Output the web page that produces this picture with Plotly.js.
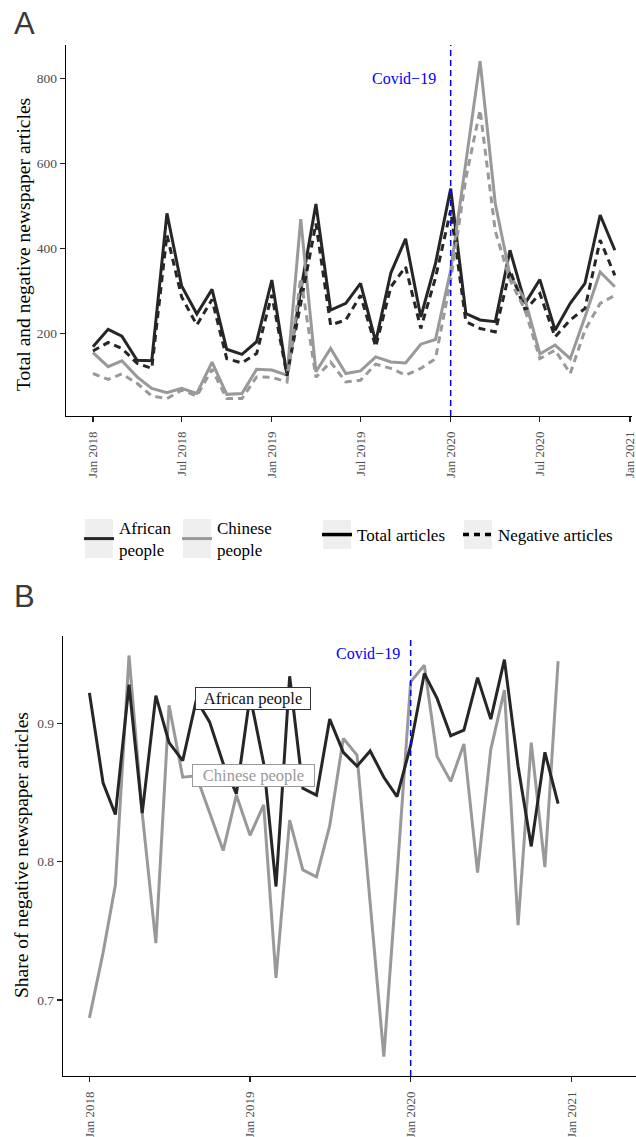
<!DOCTYPE html>
<html>
<head>
<meta charset="utf-8">
<script src="https://cdn.plot.ly/plotly-3.0.1.min.js"></script>
<style>html,body{margin:0;padding:0;background:#fff;}#chart{width:636px;height:1137px;}</style>
</head>
<body>
<div id="chart"></div>
<script>
// ---- Data ----
var months = [
  '2018-01-01','2018-02-01','2018-03-01','2018-04-01','2018-05-01','2018-06-01',
  '2018-07-01','2018-08-01','2018-09-01','2018-10-01','2018-11-01','2018-12-01',
  '2019-01-01','2019-02-01','2019-03-01','2019-04-01','2019-05-01','2019-06-01',
  '2019-07-01','2019-08-01','2019-09-01','2019-10-01','2019-11-01','2019-12-01',
  '2020-01-01','2020-02-01','2020-03-01','2020-04-01','2020-05-01','2020-06-01',
  '2020-07-01','2020-08-01','2020-09-01','2020-10-01','2020-11-01','2020-12-01'
];
// Panel A: counts of articles
var africanTotal = [168,209,193,136,135,482,311,245,303,162,150,180,
                    325,101,300,504,254,270,317,180,342,422,238,364,
                    540,246,231,227,395,270,326,207,270,317,478,395];
var africanNegative = [158,178,164,129,117,431,285,219,279,140,130,152,
                       290,100,270,458,219,231,289,168,309,356,211,330,
                       489,227,211,203,348,254,293,191,231,258,419,336];
var chineseTotal = [154,121,135,97,70,60,70,58,132,56,58,115,
                    113,101,468,109,164,105,111,144,132,130,174,185,
                    348,600,840,505,336,278,151,172,140,238,344,309];
var chineseNegative = [105,91,104,82,52,46,66,52,115,46,46,97,
                       96,85,330,96,132,85,89,127,117,101,117,140,
                       325,565,725,440,325,254,140,160,105,207,270,289];
// Panel B: share of negative articles
var africanShare = [0.922,0.857,0.834,0.928,0.835,0.920,0.886,0.873,0.917,0.901,0.871,0.849,
                    0.920,0.871,0.782,0.934,0.853,0.848,0.903,0.879,0.869,0.880,0.861,0.847,
                    0.884,0.936,0.918,0.891,0.895,0.933,0.903,0.946,0.869,0.811,0.879,0.842];
var chineseShare = [0.687,0.734,0.783,0.949,0.835,0.741,0.913,0.861,0.862,0.835,0.808,0.848,
                    0.819,0.841,0.716,0.830,0.794,0.789,0.826,0.889,0.877,0.770,0.659,0.790,
                    0.930,0.942,0.876,0.858,0.885,0.792,0.881,0.924,0.754,0.886,0.796,0.945];

var covidDate = '2020-01-01';
var covidLabel = 'Covid\u221219';

var tickValsA = ['2018-01-01','2018-07-01','2019-01-01','2019-07-01','2020-01-01','2020-07-01','2021-01-01'];
var tickTextA = ['Jan 2018','Jul 2018','Jan 2019','Jul 2019','Jan 2020','Jul 2020','Jan 2021'];
var tickValsB = ['2018-01-01','2019-01-01','2020-01-01','2021-01-01'];
var tickTextB = ['Jan 2018','Jan 2019','Jan 2020','Jan 2021'];
var yTicksA = [200,400,600,800];
var yTicksB = [0.7,0.8,0.9];
var yTickTextB = ['0.7','0.8','0.9'];

// ---- Styles ----
var W = 636, H = 1137;
var AFR = '#262626', CHN = '#999999';
var SERIF = 'Liberation Serif';
var DASH = '7px,5px';
function px(x){ return x / W; }
function py(y){ return 1 - y / H; }

var traces = [
  {x: months, y: africanTotal, type:'scatter', mode:'lines', name:'African<br>people',
   line:{color:AFR, width:3}, xaxis:'x', yaxis:'y', legend:'legend', showlegend:true, hoverinfo:'skip'},
  {x: months, y: chineseTotal, type:'scatter', mode:'lines', name:'Chinese<br>people',
   line:{color:CHN, width:3}, xaxis:'x', yaxis:'y', legend:'legend2', showlegend:true, hoverinfo:'skip'},
  {x: months, y: africanNegative, type:'scatter', mode:'lines', name:'African negative',
   line:{color:AFR, width:3, dash:DASH}, xaxis:'x', yaxis:'y', showlegend:false, hoverinfo:'skip'},
  {x: months, y: chineseNegative, type:'scatter', mode:'lines', name:'Chinese negative',
   line:{color:CHN, width:3, dash:DASH}, xaxis:'x', yaxis:'y', showlegend:false, hoverinfo:'skip'},
  {x:[null], y:[null], type:'scatter', mode:'lines', name:'Total articles',
   line:{color:'#000000', width:3.5}, xaxis:'x', yaxis:'y', legend:'legend3', showlegend:true},
  {x:[null], y:[null], type:'scatter', mode:'lines', name:'Negative articles',
   line:{color:'#000000', width:3.5, dash:'6px,5px'}, xaxis:'x', yaxis:'y', legend:'legend4', showlegend:true},
  {x: months, y: chineseShare, type:'scatter', mode:'lines', name:'Chinese people',
   line:{color:CHN, width:3}, xaxis:'x2', yaxis:'y2', showlegend:false, hoverinfo:'skip'},
  {x: months, y: africanShare, type:'scatter', mode:'lines', name:'African people',
   line:{color:AFR, width:3}, xaxis:'x2', yaxis:'y2', showlegend:false, hoverinfo:'skip'}
];

var axisCommon = {
  showgrid:false, zeroline:false, showline:true, linecolor:'#000000', linewidth:1.3,
  ticks:'outside', ticklen:5, tickwidth:1.2, tickcolor:'#222222', ticklabeloverflow:'allow',
  tickfont:{family:SERIF, size:13.5, color:'#4d4d4d'}, fixedrange:true
};
function ax(extra){ var o = {}; for (var k in axisCommon) o[k] = axisCommon[k]; for (var k2 in extra) o[k2] = extra[k2]; return o; }

function legendAt(xStart, yMid){
  return {orientation:'h', x:px(xStart), xanchor:'left', y:py(yMid), yanchor:'middle',
    font:{family:SERIF, size:17, color:'#000000'}, bgcolor:'rgba(0,0,0,0)', borderwidth:0,
    itemclick:false, itemdoubleclick:false};
}
function keyBox(xStart, yTop, yBot){
  return {type:'rect', xref:'paper', yref:'paper', x0:px(xStart+6), x1:px(xStart+34),
    y0:py(yBot), y1:py(yTop), fillcolor:'#efefef', line:{width:0}, layer:'below'};
}

var layout = {
  width: W, height: H,
  margin:{l:0, r:0, t:0, b:0},
  paper_bgcolor:'#ffffff', plot_bgcolor:'#ffffff',
  font:{family:SERIF, color:'#000000'},
  xaxis: ax({anchor:'y', domain:[px(66), px(632)], type:'date',
    range:['2017-11-07','2021-01-05'], tickmode:'array', tickvals:tickValsA, ticktext:tickTextA,
    tickangle:-90, ticklabelstandoff:4, tickfont:{family:SERIF, size:13, color:'#4d4d4d'}}),
  yaxis: ax({anchor:'x', domain:[py(416), py(45)], range:[5,878], tickmode:'array', tickvals:yTicksA}),
  xaxis2: ax({anchor:'y2', domain:[px(63), 1], type:'date',
    range:['2017-11-02','2021-05-27'], tickmode:'array', tickvals:tickValsB, ticktext:tickTextB,
    tickangle:-90, ticklabelstandoff:4, tickfont:{family:SERIF, size:13, color:'#4d4d4d'}}),
  yaxis2: ax({anchor:'x2', domain:[py(1076), py(636)], range:[0.645,0.9631], tickmode:'array',
    tickvals:yTicksB, ticktext:yTickTextB}),
  legend: legendAt(79, 539),
  legend2: legendAt(177, 539),
  legend3: legendAt(317, 535),
  legend4: legendAt(458, 535),
  shapes: [
    {type:'line', xref:'x', yref:'y domain', x0:covidDate, x1:covidDate, y0:0, y1:1,
     line:{color:'#0000ff', width:1.5, dash:'6px,4px'}},
    {type:'line', xref:'x2', yref:'y2 domain', x0:covidDate, x1:covidDate, y0:0, y1:1,
     line:{color:'#0000ff', width:1.5, dash:'6px,4px'}},
    keyBox(79, 519, 558),
    keyBox(177, 519, 558),
    keyBox(317, 520, 549),
    keyBox(458, 520, 549)
  ],
  annotations: [
    {text:'A', xref:'paper', yref:'paper', x:px(12), y:py(24), xanchor:'left', yanchor:'middle',
     showarrow:false, font:{family:'Liberation Sans', size:31, color:'#3a3a3a'}},
    {text:'B', xref:'paper', yref:'paper', x:px(12), y:py(596), xanchor:'left', yanchor:'middle',
     showarrow:false, font:{family:'Liberation Sans', size:31, color:'#3a3a3a'}},
    {text:'Total and negative newspaper articles', xref:'paper', yref:'paper', x:px(23), y:py(245),
     xanchor:'center', yanchor:'middle', textangle:-90, showarrow:false,
     font:{family:SERIF, size:19.5, color:'#000000'}},
    {text:'Share of negative newspaper articles', xref:'paper', yref:'paper', x:px(22), y:py(855),
     xanchor:'center', yanchor:'middle', textangle:-90, showarrow:false,
     font:{family:SERIF, size:19.5, color:'#000000'}},
    {text:covidLabel, xref:'x', yref:'y', x:'2019-09-27', y:800, xanchor:'center', yanchor:'middle',
     showarrow:false, font:{family:SERIF, size:16, color:'#0000ff'}},
    {text:covidLabel, xref:'x2', yref:'y2', x:'2019-09-27', y:0.9508, xanchor:'center', yanchor:'middle',
     showarrow:false, font:{family:SERIF, size:16, color:'#0000ff'}},
    {text:'African people', xref:'x2', yref:'y2', x:'2019-01-08', y:0.918, xanchor:'center', yanchor:'middle',
     showarrow:false, bgcolor:'#ffffff', bordercolor:'#333333', borderwidth:1, borderpad:1,
     width:112, height:19, font:{family:SERIF, size:16.5, color:'#111111'}},
    {text:'Chinese people', xref:'x2', yref:'y2', x:'2019-01-09', y:0.862, xanchor:'center', yanchor:'middle',
     showarrow:false, bgcolor:'#ffffff', bordercolor:'#999999', borderwidth:1, borderpad:1,
     width:119, height:19, font:{family:SERIF, size:16.5, color:'#999999'}}
  ]
};

Plotly.newPlot('chart', traces, layout, {staticPlot:true, displayModeBar:false});
</script>
</body>
</html>
